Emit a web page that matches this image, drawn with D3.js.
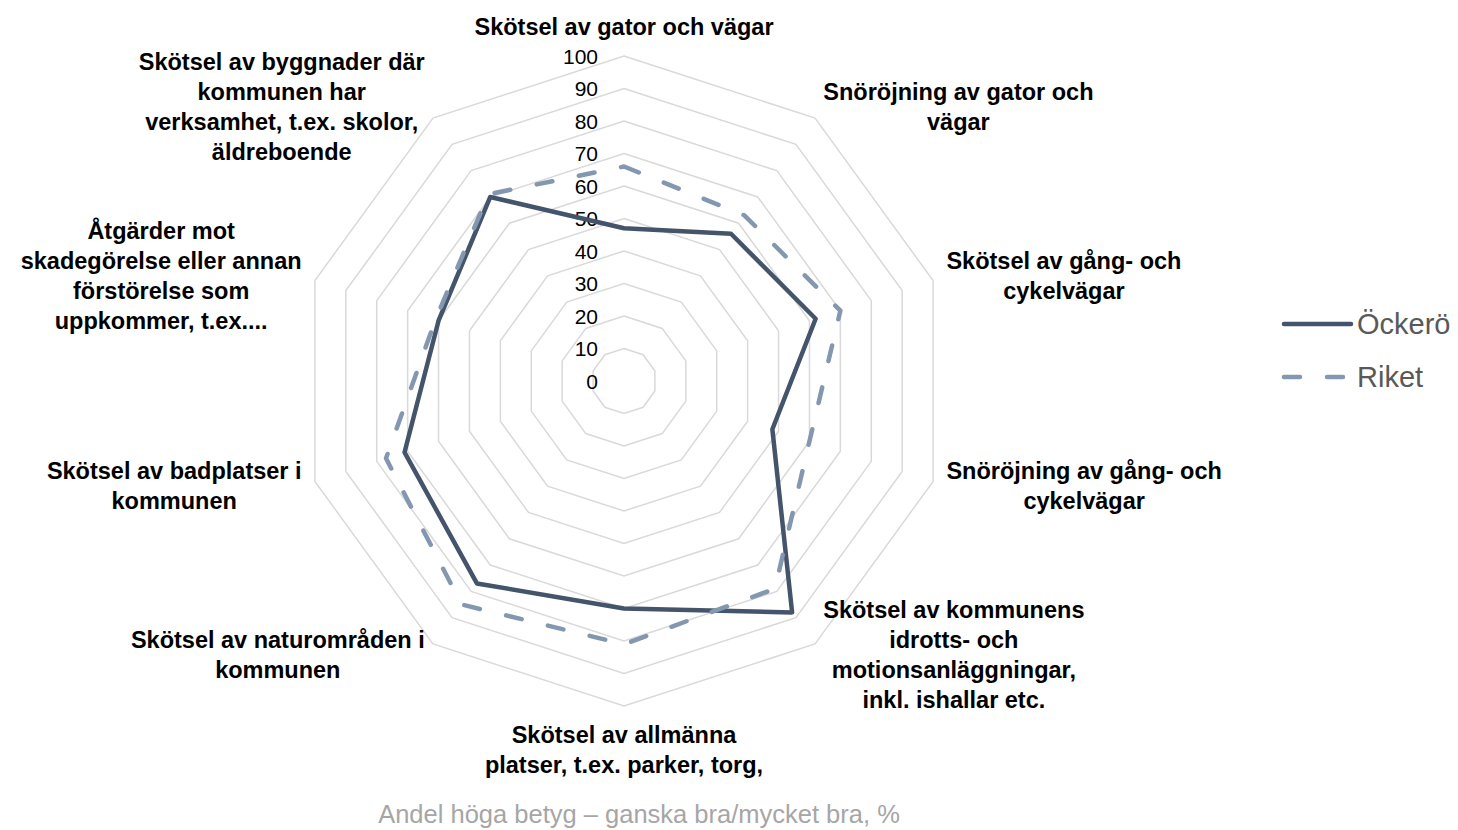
<!DOCTYPE html>
<html>
<head>
<meta charset="utf-8">
<script src="https://cdn.jsdelivr.net/npm/d3@7"></script>
<style>
  body { margin: 0; background: #fff; }
  svg { display: block; font-family: "Liberation Sans", Arial, sans-serif; }
</style>
</head>
<body>
<svg id="chart" width="1458" height="830"></svg>
<script>
var categories = [
  ["Skötsel av gator och vägar"],
  ["Snöröjning av gator och", "vägar"],
  ["Skötsel av gång- och", "cykelvägar"],
  ["Snöröjning av gång- och", "cykelvägar"],
  ["Skötsel av kommunens", "idrotts- och", "motionsanläggningar,", "inkl. ishallar etc."],
  ["Skötsel av allmänna", "platser, t.ex. parker, torg,"],
  ["Skötsel av naturområden i", "kommunen"],
  ["Skötsel av badplatser i", "kommunen"],
  ["Åtgärder mot", "skadegörelse eller annan", "förstörelse som", "uppkommer, t.ex...."],
  ["Skötsel av byggnader där", "kommunen har", "verksamhet, t.ex. skolor,", "äldreboende"]
];
var ockero = [47, 56, 62, 48, 88, 70, 77, 71, 60, 70];
var riket = [66, 63, 70, 60, 79, 81, 85, 77, 61, 71];
var ticks = [0, 10, 20, 30, 40, 50, 60, 70, 80, 90, 100];
var seriesNames = ["Öckerö", "Riket"];
var axisTitle = "Andel höga betyg – ganska bra/mycket bra, %";

var options = {
  cx: 624, cy: 381, radius: 325,
  labelGap: 14, lineHeight: 30,
  colors: { ockero: "#44546a", riket: "#8497b0", grid: "#d9d9d9" }
};

var svg = d3.select("#chart");
var n = categories.length;
var r = d3.scaleLinear().domain([0, 100]).range([0, options.radius]);
var angle = function(i) { return i * 2 * Math.PI / n; };
var pt = function(i, v) {
  return [options.cx + r(v) * Math.sin(angle(i)), options.cy - r(v) * Math.cos(angle(i))];
};

var radarLine = d3.line().curve(d3.curveLinearClosed);

// grid rings
svg.append("g").attr("class", "grid").selectAll("path")
  .data(ticks.filter(function(t) { return t > 0; }))
  .enter().append("path")
  .attr("d", function(t) { return radarLine(d3.range(n).map(function(i) { return pt(i, t); })); })
  .attr("fill", "none").attr("stroke", options.colors.grid).attr("stroke-width", 1.5);

// tick labels
svg.append("g").attr("class", "ticks").selectAll("text")
  .data(ticks).enter().append("text")
  .attr("x", options.cx - 26)
  .attr("y", function(t) { return options.cy - r(t) + 7.5; })
  .attr("text-anchor", "end")
  .attr("font-size", 21)
  .attr("fill", "#000")
  .text(function(t) { return t; });

// series
svg.append("path")
  .attr("d", radarLine(ockero.map(function(v, i) { return pt(i, v); })))
  .attr("fill", "none").attr("stroke", options.colors.ockero)
  .attr("stroke-width", 4.5).attr("stroke-linejoin", "round");

svg.append("path")
  .attr("d", radarLine(riket.map(function(v, i) { return pt(i, v); })))
  .attr("fill", "none").attr("stroke", options.colors.riket)
  .attr("stroke-width", 4.5).attr("stroke-linejoin", "round")
  .attr("stroke-linecap", "round").attr("stroke-dasharray", "16,27");

// category labels
var labels = svg.append("g").attr("class", "labels");
categories.forEach(function(lines, i) {
  var a = angle(i), s = Math.sin(a), c = Math.cos(a);
  var p = pt(i, 100 * (options.radius + options.labelGap) / options.radius);
  var h = lines.length * options.lineHeight;
  var g = labels.append("g");
  var texts = g.selectAll("text").data(lines).enter().append("text")
    .attr("font-size", 23.5).attr("font-weight", "bold").attr("fill", "#000")
    .attr("text-anchor", "middle")
    .text(function(d) { return d; });
  var w = d3.max(texts.nodes(), function(node) { return node.getComputedTextLength(); });
  var top, x;
  if (Math.abs(s) < 0.01) {
    x = p[0];
    top = c > 0 ? p[1] - h : p[1];
  } else {
    x = s > 0 ? p[0] + w / 2 : p[0] - w / 2;
    top = p[1] - h / 2;
  }
  texts.attr("x", x)
    .attr("y", function(d, j) { return top + j * options.lineHeight + options.lineHeight / 2 + 8; });
});

// legend
var legend = svg.append("g").attr("class", "legend");
[options.colors.ockero, options.colors.riket].forEach(function(col, k) {
  var y = 324 + k * 53;
  var ln = legend.append("line")
    .attr("x1", 1284).attr("x2", k === 0 ? 1351 : 1350)
    .attr("y1", y).attr("y2", y)
    .attr("stroke", col).attr("stroke-width", 4.5).attr("stroke-linecap", "round");
  if (k === 1) ln.attr("stroke-dasharray", "16,27");
  legend.append("text")
    .attr("x", 1357).attr("y", y + 10)
    .attr("font-size", 29).attr("fill", "#595959")
    .text(seriesNames[k]);
});

svg.append("text")
  .attr("x", 639).attr("y", 823)
  .attr("text-anchor", "middle")
  .attr("font-size", 25.5).attr("fill", "#a6a6a6")
  .text(axisTitle);
</script>
</body>
</html>
